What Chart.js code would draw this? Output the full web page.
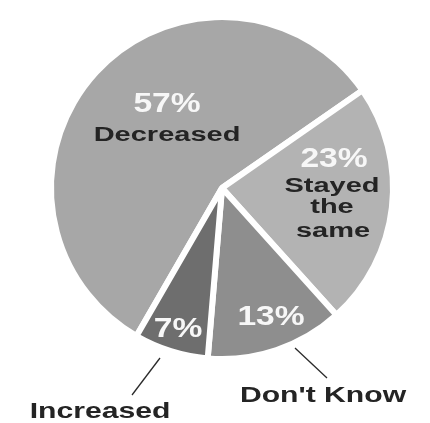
<!DOCTYPE html>
<html>
<head>
<meta charset="utf-8">
<script src="https://cdn.jsdelivr.net/npm/chart.js@4/dist/chart.umd.min.js"></script>
<style>
  html, body { margin: 0; padding: 0; background: #ffffff; }
  #wrap { width: 430px; height: 423px; }
</style>
</head>
<body>
<div id="wrap"><canvas id="c" width="430" height="423"></canvas></div>
<script>
// ---- data ----
const categories = ['Decreased', 'Stayed the same', "Don't Know", 'Increased'];
const values = [57, 23, 13, 7];
const labelLines = [['Decreased'], ['Stayed', 'the', 'same'], ["Don't Know"], ['Increased']];

// ---- style ----
const sliceColors = ['#a7a7a7', '#b3b3b3', '#8e8e8e', '#6e6e6e'];
const darkText = '#242424';
const pctText = '#f7f7f7';
const FONT = '"Liberation Sans", Arial, sans-serif';

// label layout: offsets in px from pie centre at reference radius 171
const REF_R = 171;
const pctPos = [[-55, -76], [112, -21], [49, 137], [-44, 149]];
const namePos = [
  [[-55, -47]],
  [[110, 4], [110, 25], [111, 49]],
  [[101, 214]],
  [[-122, 230]]
];
const nameInside = [true, true, false, false];
const leaders = [null, null, [[73, 160], [105, 190]], [[-62, 170], [-90, 207]]];

function drawScaled(ctx, text, x, y, font, color, sx) {
  ctx.save();
  ctx.translate(x, y);
  ctx.scale(sx, 1);
  ctx.font = font;
  ctx.fillStyle = color;
  ctx.textAlign = 'center';
  ctx.textBaseline = 'alphabetic';
  ctx.fillText(text, 0, 0);
  ctx.restore();
}

const labelPlugin = {
  id: 'sliceLabels',
  afterDatasetsDraw(chart) {
    const ctx = chart.ctx;
    const meta = chart.getDatasetMeta(0);
    meta.data.forEach((arc, i) => {
      const p = arc.getProps(['x', 'y', 'outerRadius'], true);
      const k = p.outerRadius / REF_R;
      const cx = p.x, cy = p.y;
      // percentage
      drawScaled(ctx, values[i] + '%', cx + pctPos[i][0] * k, cy + pctPos[i][1] * k,
        'bold 28px ' + FONT, pctText, 1.2);
      // category name lines
      labelLines[i].forEach((line, j) => {
        const pos = namePos[i][j];
        const font = nameInside[i] ? 'bold 20px ' + FONT : 'bold 22px ' + FONT;
        const sx = nameInside[i] ? 1.45 : 1.37;
        drawScaled(ctx, line, cx + pos[0] * k, cy + pos[1] * k, font, darkText, sx);
      });
      // leader line
      const ld = leaders[i];
      if (ld) {
        ctx.save();
        ctx.strokeStyle = '#2a2a2a';
        ctx.lineWidth = 1.3;
        ctx.beginPath();
        ctx.moveTo(cx + ld[0][0] * k, cy + ld[0][1] * k);
        ctx.lineTo(cx + ld[1][0] * k, cy + ld[1][1] * k);
        ctx.stroke();
        ctx.restore();
      }
    });
  }
};

new Chart(document.getElementById('c'), {
  type: 'pie',
  data: {
    labels: categories,
    datasets: [{
      data: values,
      backgroundColor: sliceColors,
      borderColor: '#ffffff',
      borderWidth: 6,
      hoverOffset: 0
    }]
  },
  options: {
    responsive: false,
    animation: false,
    rotation: 210,
    layout: { padding: { left: 48, right: 34, top: 14, bottom: 61 } },
    plugins: {
      legend: { display: false },
      tooltip: { enabled: false }
    }
  },
  plugins: [labelPlugin]
});
</script>
</body>
</html>
